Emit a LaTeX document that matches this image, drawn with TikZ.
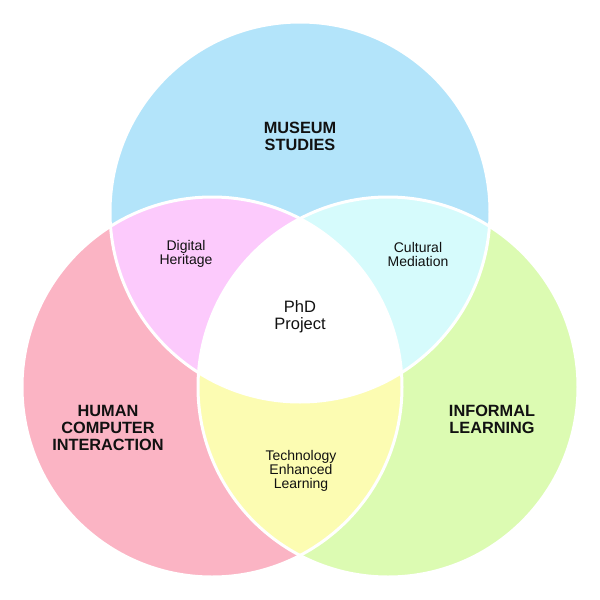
\documentclass[tikz,border=0pt]{standalone}
\usepackage{fontspec}
\setmainfont{Liberation Sans}
\definecolor{blueT}{RGB}{179,228,250}
\definecolor{pinkL}{RGB}{251,180,196}
\definecolor{greenR}{RGB}{220,251,178}
\definecolor{magTL}{RGB}{252,202,252}
\definecolor{cyanTR}{RGB}{214,251,252}
\definecolor{yellowLR}{RGB}{252,252,178}
\definecolor{txt}{RGB}{17,17,17}
\tikzset{
  big/.style={align=center, inner sep=0pt, text=txt, font=\fontsize{16.3}{17}\selectfont\bfseries},
  small/.style={align=center, inner sep=0pt, text=txt, font=\fontsize{14}{14}\selectfont},
  mid/.style={align=center, inner sep=0pt, text=txt, font=\fontsize{16.5}{17}\selectfont},
  rim/.style={draw=white, line width=3pt}
}
\def\CT{(300,212) circle (190)}
\def\CL{(212,387) circle (190)}
\def\CR{(388,387) circle (190)}
\begin{document}
\begin{tikzpicture}[x=1pt,y=-1pt]
\useasboundingbox[fill=white] (0,0) rectangle (600,600);
\fill[blueT] \CT;
\fill[pinkL] \CL;
\fill[greenR] \CR;
\begin{scope}
  \clip \CT;
  \fill[magTL] \CL;
  \fill[cyanTR] \CR;
\end{scope}
\begin{scope}
  \clip \CL;
  \fill[yellowLR] \CR;
\end{scope}
\begin{scope}
  \clip \CT;
  \clip \CL;
  \fill[white] \CR;
\end{scope}
\draw[rim] \CT;
\draw[rim] \CL;
\draw[rim] \CR;
\node[big] (ms) at (300,136.5) {MUSEUM\\STUDIES};
\node[big] (hci) at (108,428) {HUMAN\\COMPUTER\\INTERACTION};
\node[big] (il) at (492,419.5) {INFORMAL\\LEARNING};
\node[small] (dh) at (186,254) {Digital\\Heritage};
\node[small] (cm) at (418,254) {Cultural\\Mediation};
\node[mid] (phd) at (300,316.5) {PhD\\Project};
\node[small] (tel) at (301,471) {Technology\\Enhanced\\Learning};
\end{tikzpicture}
\end{document}
